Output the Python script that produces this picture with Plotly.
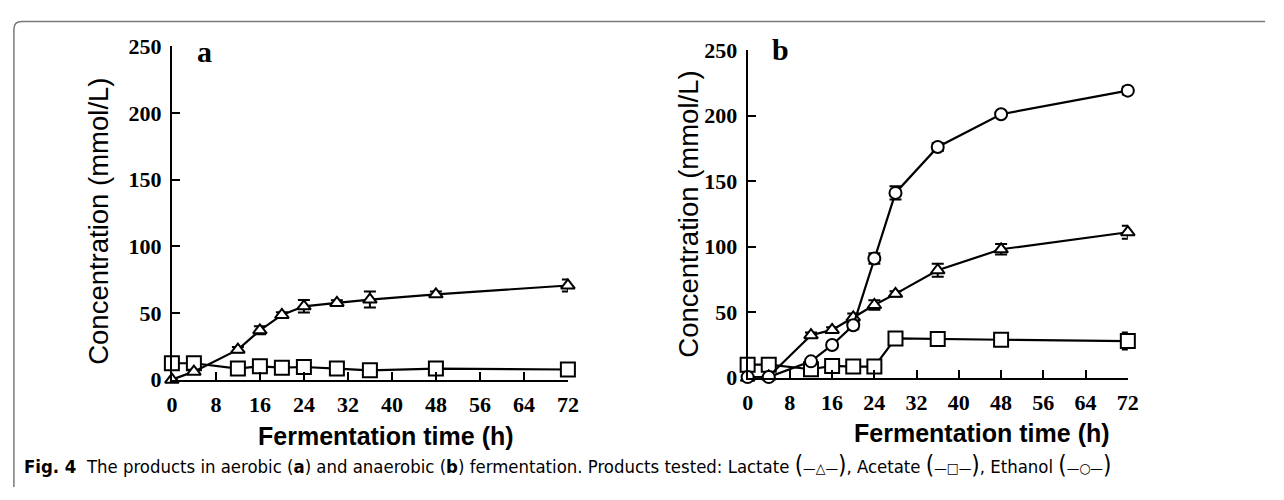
import plotly.graph_objects as go

# ---------------- data ----------------
time_a = [0, 4, 12, 16, 20, 24, 30, 36, 48, 72]
lactate_a = [0, 6, 22.5, 37, 48.5, 55, 57.5, 60, 64, 70.6]
lactate_a_err = [0, 1.5, 2, 3, 2, 4.7, 2, 6, 2, 4.5]
acetate_a = [12.3, 12.3, 8.3, 10, 9, 9.5, 8.3, 7, 8.3, 7.6]
acetate_a_err = [1, 1, 1, 1, 1, 1, 1, 1, 1, 1]

time_b = [0, 4, 12, 16, 20, 24, 28, 36, 48, 72]
lactate_b = [0, 1, 32.5, 36.5, 46, 55.5, 64, 82, 98, 111]
lactate_b_err = [0, 0, 2, 2, 3, 3.6, 2, 5, 4, 5]
acetate_b = [10, 10, 6.5, 9, 8.5, 8.5, 30, 29.5, 29, 28]
acetate_b_err = [1, 1, 1, 1, 1, 1, 1.5, 1, 2, 6.5]
ethanol_b = [0.5, 0.5, 12.5, 25, 40, 91, 141, 176, 201, 219]
ethanol_b_err = [0, 0, 1, 2, 3, 4, 5, 3, 1.5, 3]

x_ticks = [0, 8, 16, 24, 32, 40, 48, 56, 64, 72]
y_ticks = [0, 50, 100, 150, 200, 250]

W, H = 1284, 500

fig = go.Figure()

def add_series(x, y, err, symbol, size, xa, ya):
    fig.add_trace(go.Scatter(
        x=x, y=y, mode="lines+markers",
        xaxis=xa, yaxis=ya,
        line=dict(color="black", width=2.2),
        marker=dict(symbol=symbol, size=size, color="white",
                    line=dict(color="black", width=2)),
        error_y=dict(type="data", array=err, visible=True,
                     color="black", thickness=2, width=6),
        cliponaxis=False, showlegend=False, hoverinfo="skip"))

# Panel a
add_series(time_a, acetate_a, acetate_a_err, "square", 14, "x", "y")
add_series(time_a, lactate_a, lactate_a_err, "triangle-up", 12, "x", "y")
# Panel b
add_series(time_b, acetate_b, acetate_b_err, "square", 14, "x2", "y2")
add_series(time_b, lactate_b, lactate_b_err, "triangle-up", 12, "x2", "y2")
add_series(time_b, ethanol_b, ethanol_b_err, "circle", 12, "x2", "y2")

tick_font = dict(family="Liberation Serif", size=22, color="black", weight="bold")

def xaxis_cfg(domain, anchor):
    return dict(domain=domain, anchor=anchor, range=[0, 72],
                tickvals=x_ticks, ticks="inside", ticklen=8, tickwidth=2,
                tickcolor="black", showline=True, linecolor="black",
                linewidth=2.2, showgrid=False, zeroline=False,
                tickfont=tick_font, ticklabelstandoff=4)

def yaxis_cfg(domain, anchor):
    return dict(domain=domain, anchor=anchor, range=[0, 250],
                tickvals=y_ticks, ticks="inside", ticklen=8, tickwidth=2,
                tickcolor="black", showline=True, linecolor="black",
                linewidth=2.2, showgrid=False, zeroline=False,
                tickfont=tick_font, ticklabelstandoff=4)

fig.update_layout(
    width=W, height=H,
    margin=dict(l=0, r=0, t=0, b=0),
    paper_bgcolor="white", plot_bgcolor="white",
    xaxis=xaxis_cfg([169 / W, 570 / W], "y"),
    yaxis=yaxis_cfg([1 - 387 / H, 1 - 36 / H], "x"),
    xaxis2=xaxis_cfg([752 / W, 1137 / W], "y2"),
    yaxis2=yaxis_cfg([1 - 385 / H, 1 - 40 / H], "x2"),
)

ann = []
def txt(x, y, text, size, family, bold=False, angle=0, xanchor="center", yanchor="middle"):
    ann.append(dict(x=x / W, y=1 - y / H, xref="paper", yref="paper",
                    text=text, showarrow=False, textangle=angle,
                    xanchor=xanchor, yanchor=yanchor,
                    font=dict(size=size, family=family, color="black",
                              weight="bold" if bold else "normal")))

# panel letters
txt(202, 42, "a", 30, "Liberation Serif", bold=True)
txt(785, 40, "b", 30, "Liberation Serif", bold=True)
# y titles
txt(95, 220, "Concentration (mmol/L)", 27.5, "Liberation Sans", angle=-90)
txt(692, 213, "Concentration (mmol/L)", 27.5, "Liberation Sans", angle=-90)
# x titles
txt(386, 446, "Fermentation time (h)", 25, "Liberation Sans", bold=True)
txt(989, 443, "Fermentation time (h)", 25, "Liberation Sans", bold=True)
# caption
sym = "<span style='font-size:14px'>%s</span>"
lp = "<span style='font-size:24px'>(</span>"
rp = "<span style='font-size:24px'>)</span>"
caption = ("<b>Fig. 4</b>  The products in aerobic (<b>a</b>) and anaerobic (<b>b</b>) "
           "fermentation. Products tested: Lactate " + lp + sym % "—△—" + rp + ", Acetate "
           + lp + sym % "—□—" + rp + ", Ethanol " + lp + sym % "—○—" + rp)
txt(17, 477, caption, 18.4, "DejaVu Sans Condensed, Liberation Sans Narrow, Liberation Sans",
    xanchor="left")

fig.update_layout(annotations=ann)

# frame: top and left grey border with rounded corner
r = 8
fig.add_shape(type="path", xref="paper", yref="paper",
              path=(f"M {9 / W},{0} L {9 / W},{1 - (10 + r) / H} "
                    f"Q {9 / W},{1 - 10 / H} {(9 + r) / W},{1 - 10 / H} "
                    f"L {1276 / W},{1 - 10 / H}"),
              line=dict(color="#7a7a7a", width=1.5))

fig.write_html("out.html")
